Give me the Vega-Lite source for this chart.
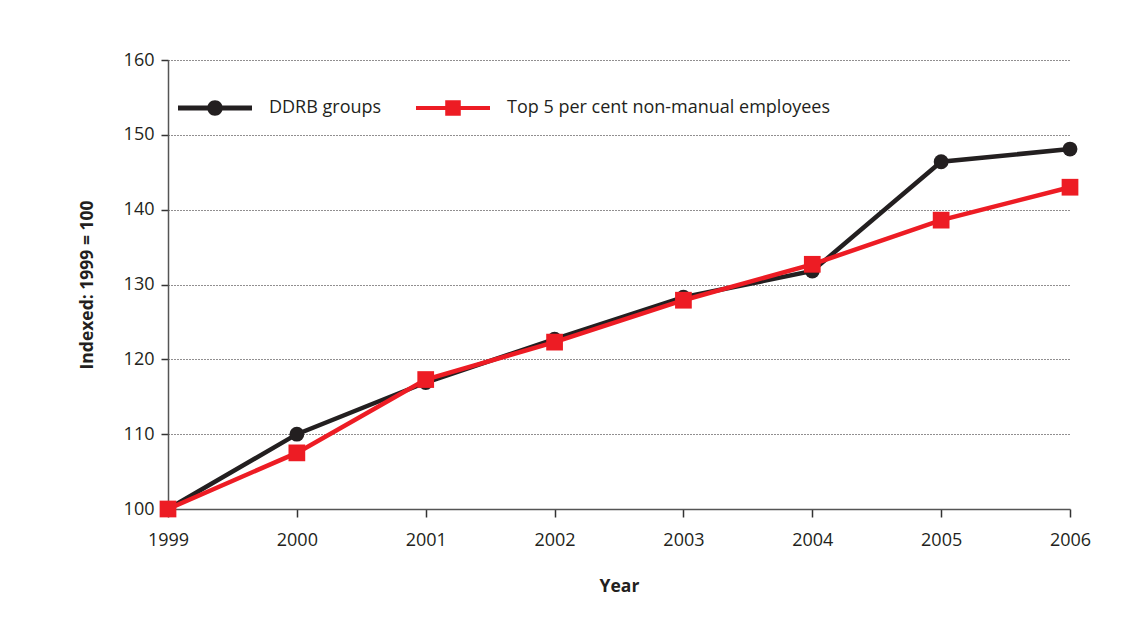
{
  "$schema": "https://vega.github.io/schema/vega-lite/v6.json",
  "width": 902,
  "height": 449,
  "autosize": {"type": "none"},
  "padding": {"left": 168, "top": 60, "right": 59, "bottom": 124},
  "background": "white",
  "config": {
    "view": {"stroke": null},
    "font": "Open Sans",
    "axis": {
      "labelFont": "Open Sans",
      "labelFontSize": 18,
      "labelColor": "#231f20",
      "titleFont": "Open Sans",
      "titleFontSize": 17.5,
      "titleFontWeight": "bold",
      "titleColor": "#231f20",
      "domainColor": "#555555",
      "domainWidth": 1.5,
      "tickColor": "#333333",
      "tickWidth": 1.5,
      "tickSize": 8
    },
    "legend": {
      "labelFont": "Open Sans",
      "labelFontSize": 18,
      "labelColor": "#231f20",
      "labelLimit": 0
    }
  },
  "data": {
    "values": [
      {"year": 1999, "series": "DDRB groups", "value": 100},
      {"year": 2000, "series": "DDRB groups", "value": 110.0},
      {"year": 2001, "series": "DDRB groups", "value": 116.9},
      {"year": 2002, "series": "DDRB groups", "value": 122.7},
      {"year": 2003, "series": "DDRB groups", "value": 128.3},
      {"year": 2004, "series": "DDRB groups", "value": 131.8},
      {"year": 2005, "series": "DDRB groups", "value": 146.4},
      {"year": 2006, "series": "DDRB groups", "value": 148.1},
      {"year": 1999, "series": "Top 5 per cent non-manual employees", "value": 100},
      {"year": 2000, "series": "Top 5 per cent non-manual employees", "value": 107.5},
      {"year": 2001, "series": "Top 5 per cent non-manual employees", "value": 117.3},
      {"year": 2002, "series": "Top 5 per cent non-manual employees", "value": 122.3},
      {"year": 2003, "series": "Top 5 per cent non-manual employees", "value": 127.9},
      {"year": 2004, "series": "Top 5 per cent non-manual employees", "value": 132.7},
      {"year": 2005, "series": "Top 5 per cent non-manual employees", "value": 138.6},
      {"year": 2006, "series": "Top 5 per cent non-manual employees", "value": 143.0}
    ]
  },
  "encoding": {
    "x": {
      "field": "year",
      "type": "quantitative",
      "scale": {"domain": [1999, 2006], "nice": false, "zero": false},
      "axis": {
        "title": "Year",
        "values": [1999, 2000, 2001, 2002, 2003, 2004, 2005, 2006],
        "format": "d",
        "grid": false,
        "labelPadding": 14,
        "titlePadding": 28,
        "labelFlush": false
      }
    },
    "y": {
      "field": "value",
      "type": "quantitative",
      "scale": {"domain": [100, 160], "nice": false, "zero": false},
      "axis": {
        "title": "Indexed: 1999 = 100",
        "values": [100, 110, 120, 130, 140, 150, 160],
        "grid": true,
        "gridColor": "#231f20",
        "gridDash": [1, 2],
        "gridWidth": 1,
        "tickSize": 7,
        "labelPadding": 7,
        "titlePadding": 27
      }
    }
  },
  "layer": [
    {
      "mark": {"type": "line", "strokeWidth": 4.5},
      "encoding": {
        "color": {
          "field": "series",
          "type": "nominal",
          "scale": {
            "domain": ["DDRB groups", "Top 5 per cent non-manual employees"],
            "range": ["#231f20", "#ed1c24"]
          },
          "legend": {
            "title": null,
            "orient": "none",
            "direction": "horizontal",
            "legendX": 10,
            "legendY": 11,
            "symbolSize": 5476,
            "symbolStrokeWidth": 0,
            "labelOffset": 17,
            "columnPadding": 34,
            "encode": {
              "symbols": {
                "update": {
                  "shape": {"signal": "datum.value === 'DDRB groups' ? 'M-1,-0.065H1V0.065H-1Z M0.21,0A0.21,0.21,0,1,1,-0.21,0A0.21,0.21,0,1,1,0.21,0Z' : 'M-1,-0.055H1V0.055H-1Z M-0.21,-0.21H0.21V0.21H-0.21Z'"},
                  "fill": {"signal": "datum.value === 'DDRB groups' ? '#231f20' : '#ed1c24'"},
                  "strokeWidth": {"value": 0},
                  "opacity": {"value": 1}
                }
              }
            }
          }
        }
      }
    },
    {
      "transform": [{"filter": "datum.series === 'DDRB groups'"}],
      "mark": {"type": "point", "filled": true, "opacity": 1, "shape": "circle", "size": 220, "color": "#231f20"}
    },
    {
      "transform": [{"filter": "datum.series !== 'DDRB groups'"}],
      "mark": {"type": "point", "filled": true, "opacity": 1, "shape": "square", "size": 280, "color": "#ed1c24"}
    }
  ]
}
